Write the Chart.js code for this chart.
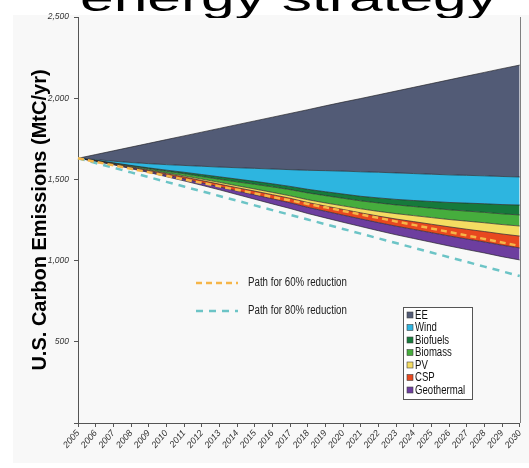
<!DOCTYPE html>
<html>
<head>
<meta charset="utf-8">
<script src="https://cdn.jsdelivr.net/npm/chart.js@4.4.1/dist/chart.umd.min.js"></script>
<style>
html,body{margin:0;padding:0;background:#fff;}
#wrap{position:relative;width:529px;height:468px;overflow:hidden;}
#bg{position:absolute;left:13px;top:15px;right:0;bottom:5px;background:#f8f8f8;}
#c{position:absolute;left:0;top:0;}
#title{position:absolute;left:80px;top:-20px;font-family:"Liberation Sans",Arial,sans-serif;font-size:60.5px;line-height:1;color:#000;white-space:nowrap;transform-origin:0 0;transform:scaleY(0.6);z-index:2;}
</style>
</head>
<body>
<div id="wrap">
  <div id="bg"></div>
  <canvas id="c" width="529" height="468"></canvas>
  <div id="title">energy strategy</div>
</div>
<script>
// ---- data (MtC/yr) ----
const years = ['2005','2006','2007','2008','2009','2010','2011','2012','2013','2014','2015','2016','2017','2018','2019','2020','2021','2022','2023','2024','2025','2026','2027','2028','2029','2030'];
const remaining  = [1630,1611,1590,1566,1543,1517,1491,1464,1436,1407,1378,1349,1321,1290,1263,1236,1210,1184,1159,1136,1113,1090,1068,1047,1024,1004];
const geothermal = [0,2,3,5,7,10,13,15,18,22,27,31,35,38,41,44,47,50,53,56,59,62,65,68,71,74];
const csp        = [0,1,2,4,5,8,11,14,17,20,23,26,28,30,32,35,37,40,44,48,52,56,60,64,69,73];
const pv         = [0,1,2,3,4,5,7,9,11,12,13,14,15,17,19,22,25,29,33,37,41,45,50,54,58,62];
const biomass    = [0,1,3,5,7,10,13,16,19,24,29,34,38,42,45,47,49,52,54,56,58,60,62,64,66,68];
const biofuels   = [0,1,2,3,5,7,9,12,15,17,18,19,20,22,24,26,28,31,34,37,41,45,49,53,57,61];
const wind       = [0,5,10,18,26,34,42,51,60,70,80,91,103,117,130,141,151,158,163,166,168,170,171,172,173,173];
const ee         = [0,31,64,95,125,154,182,210,238,265,292,319,346,373,399,425,451,477,504,531,558,585,611,637,664,689];
const path60     = [1630,1608,1587,1565,1544,1522,1500,1479,1457,1436,1414,1392,1371,1349,1328,1306,1284,1263,1241,1220,1198,1176,1155,1133,1112,1090];
const path80     = [1630,1601,1572,1543,1514,1485,1456,1427,1398,1369,1340,1311,1282,1253,1224,1195,1166,1137,1108,1079,1050,1021,992,963,934,905];
const yTicks = [0,500,1000,1500,2000,2500];

const sans = '"Liberation Sans",Arial,sans-serif';
const edge = 'rgba(35,35,40,0.85)';

function area(label, data, color){
  return {label, data, backgroundColor: color, borderColor: edge, borderWidth: 0.8,
          fill: '-1', pointRadius: 0, tension: 0};
}

const datasets = [
  {label:'remaining', data: remaining, borderColor: edge, borderWidth: 0.8, backgroundColor:'transparent', fill:false, pointRadius:0},
  area('Geothermal', geothermal, '#6d3e9f'),
  area('CSP', csp, '#e8481f'),
  area('PV', pv, '#f4dc62'),
  area('Biomass', biomass, '#46ad3d'),
  area('Biofuels', biofuels, '#167a3b'),
  area('Wind', wind, '#2db5e0'),
  area('EE', ee, '#525b76'),
  {label:'Path for 60% reduction', data: path60, stack:'p60', order:-1, borderColor:'#f5b548', borderDash:[6,4], borderWidth:2.5, fill:false, pointRadius:0},
  {label:'Path for 80% reduction', data: path80, stack:'p80', order:-1, borderColor:'#6cc4c6', borderDash:[7,6], borderWidth:2.5, fill:false, pointRadius:0}
];

function narrowText(ctx, text, x, y, sx){
  ctx.save(); ctx.translate(x, y); ctx.scale(sx, 1); ctx.fillText(text, 0, 0); ctx.restore();
}

const customLegend = {
  id: 'customLegend',
  afterDraw(chart){
    const ctx = chart.ctx, a = chart.chartArea;
    ctx.save();
    // right border of plot area
    ctx.strokeStyle = '#808080'; ctx.lineWidth = 1;
    ctx.beginPath(); ctx.moveTo(Math.round(a.right)+0.5, a.top); ctx.lineTo(Math.round(a.right)+0.5, a.bottom); ctx.stroke();

    // stacked series legend box
    const techs = chart.data.datasets.slice(1, 8).reverse();
    ctx.fillStyle = '#ffffff'; ctx.fillRect(403.5, 307.5, 69, 92);
    ctx.strokeStyle = '#555'; ctx.lineWidth = 1; ctx.strokeRect(403.5, 307.5, 69, 92);
    ctx.font = '12px ' + sans; ctx.textBaseline = 'middle'; ctx.textAlign = 'left';
    techs.forEach((ds, k) => {
      const y = 315 + k * 12.5;
      ctx.fillStyle = ds.backgroundColor; ctx.fillRect(407, y - 3, 6, 6);
      ctx.strokeStyle = '#444'; ctx.lineWidth = 0.6; ctx.strokeRect(407, y - 3, 6, 6);
      ctx.fillStyle = '#111'; narrowText(ctx, ds.label, 415, y + 0.5, 0.8);
    });

    // dashed path legends
    const paths = chart.data.datasets.slice(8);
    const ys = [283, 311];
    paths.forEach((ds, k) => {
      const y = ys[k];
      ctx.strokeStyle = ds.borderColor; ctx.lineWidth = 2.5; ctx.setLineDash(ds.borderDash);
      ctx.beginPath(); ctx.moveTo(196, y); ctx.lineTo(238, y); ctx.stroke();
      ctx.setLineDash([]);
      ctx.fillStyle = '#222'; ctx.font = '12px ' + sans;
      narrowText(ctx, ds.label, 248, y, 0.81);
    });
    ctx.restore();
  }
};

new Chart(document.getElementById('c'), {
  type: 'line',
  data: { labels: years, datasets },
  plugins: [customLegend],
  options: {
    responsive: false, animation: false,
    layout: { padding: { left: 20, right: 2, top: 17, bottom: 0 } },
    plugins: { legend: { display: false }, tooltip: { enabled: false } },
    scales: {
      x: {
        offset: false,
        grid: { drawOnChartArea: false, drawTicks: true, tickLength: 4, color: '#555' },
        border: { display: true, color: '#555', width: 1 },
        ticks: { autoSkip: false, maxRotation: 50, minRotation: 50, padding: 1, color: '#333',
                 font: { family: sans, size: 9, style: 'italic' } },
        afterFit(s){ s.height = 45; }
      },
      y: {
        stacked: true, min: 0, max: 2500,
        afterBuildTicks(s){ s.ticks = yTicks.map(v => ({ value: v })); },
        ticks: { padding: 5, color: '#333', font: { family: sans, size: 8.5, style: 'italic' },
                 callback: v => v === 0 ? '' : v.toLocaleString('en-US') },
        grid: { drawOnChartArea: false, drawTicks: true, tickLength: 4, color: '#555' },
        border: { display: true, color: '#555', width: 1 },
        title: { display: true, text: 'U.S. Carbon Emissions (MtC/yr)', color: '#000',
                 font: { family: sans, size: 20, weight: 'bold' },
                 padding: { top: 8, bottom: 0 } },
        afterFit(s){ s.width = 58; }
      }
    }
  }
});
</script>
</body>
</html>
